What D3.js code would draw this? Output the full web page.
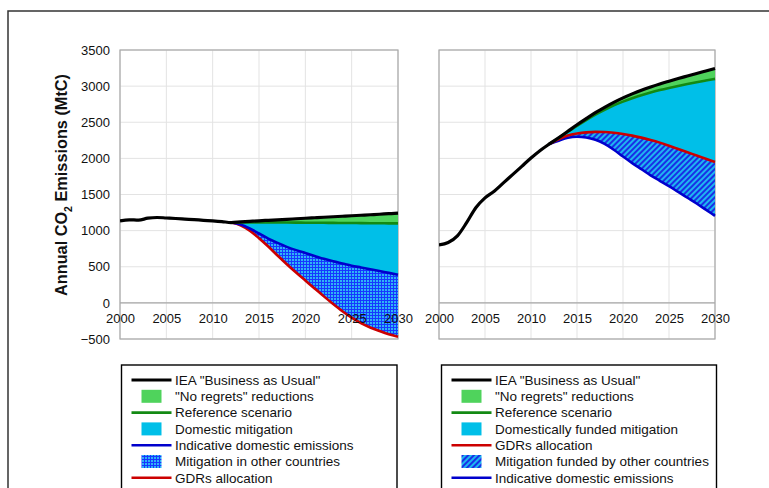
<!DOCTYPE html>
<html><head><meta charset="utf-8">
<script src="https://cdn.jsdelivr.net/npm/d3@7"></script>
<style>body{margin:0;background:#fff} text{font-family:"Liberation Sans",Arial,sans-serif}</style>
</head><body><svg id="c" width="769" height="488"></svg>
<script>
// ---------- DATA ----------
const years = [2000,2001,2002,2003,2004,2005,2006,2007,2008,2009,2010,2011,2012,2013,2014,2015,
  2016,2017,2018,2019,2020,2021,2022,2023,2024,2025,2026,2027,2028,2029,2030];
const scenYears = [2012,2013,2014,2015,2016,2017,2018,2019,2020,2021,2022,2023,2024,2025,2026,2027,2028,2029,2030];

// Left panel
const leftBAU = [1135,1150,1145,1172,1182,1175,1168,1160,1152,1143,1135,1125,1112,1120,1128,1136,
  1143,1150,1157,1164,1171,1178,1185,1192,1199,1206,1213,1220,1227,1234,1241];
const leftRef = [1112,1113,1114,1114,1114,1113,1112,1111,1110,1109,1108,1107,1106,1105,1104,1103,1102,1101,1100];
const leftDomestic = [1112,1085,1030,960,890,830,775,730,690,650,610,575,545,515,490,465,440,415,390];
const leftGDR = [1112,1075,1000,895,780,655,535,420,310,200,90,-15,-115,-205,-280,-340,-390,-435,-470];

// Right panel
const rightBAU = [803,835,927,1110,1317,1454,1546,1661,1775,1890,2005,2110,2200,2285,2375,2465,
  2550,2632,2707,2776,2838,2893,2943,2988,3030,3068,3105,3140,3175,3210,3245];
const rightRef = [2200,2282,2368,2450,2530,2605,2672,2733,2785,2832,2875,2912,2945,2975,3003,3030,3055,3078,3100];
const rightGDR = [2200,2265,2315,2343,2360,2367,2365,2355,2338,2315,2287,2255,2218,2175,2130,2085,2040,1995,1950];
const rightDomestic = [2198,2245,2285,2300,2290,2257,2200,2120,2025,1935,1850,1765,1690,1615,1535,1455,1375,1290,1205];

const yTicks = [-500,0,500,1000,1500,2000,2500,3000,3500];
const xTicks = [2000,2005,2010,2015,2020,2025,2030];

const leftLegendLabels = ['IEA "Business as Usual"','"No regrets" reductions','Reference scenario',
  'Domestic mitigation','Indicative domestic emissions','Mitigation in other countries','GDRs allocation'];
const rightLegendLabels = ['IEA "Business as Usual"','"No regrets" reductions','Reference scenario',
  'Domestically funded mitigation','GDRs allocation','Mitigation funded by other countries','Indicative domestic emissions'];

// ---------- STYLE ----------
const C = {bau:"#000000", green:"#4fd35c", ref:"#138a13", cyan:"#00bfe8", blue:"#0000cc", red:"#cc0000"};

const svg = d3.select("#c");
svg.append("rect").attr("width",769).attr("height",488).attr("fill","#fff");

const defs = svg.append("defs");
const gp = defs.append("pattern").attr("id","gridHatch").attr("patternUnits","userSpaceOnUse")
  .attr("width",3).attr("height",3);
gp.append("rect").attr("width",3).attr("height",3).attr("fill","#1638ff");
gp.append("rect").attr("x",1).attr("y",1).attr("width",2).attr("height",2).attr("fill","#2fb4f5");
const sp = defs.append("pattern").attr("id","stripeHatch").attr("patternUnits","userSpaceOnUse")
  .attr("width",4).attr("height",4).attr("patternTransform","rotate(45)");
sp.append("rect").attr("width",4).attr("height",4).attr("fill","#1eb6f0");
sp.append("rect").attr("width",2).attr("height",4).attr("fill","#1a2fe6");

// outer frame
svg.append("rect").attr("x",8).attr("y",11).attr("width",800).attr("height",500)
  .attr("fill","none").attr("stroke","#333").attr("stroke-width",1.5);

const y = d3.scaleLinear().domain([-500,3500]).range([339,50]);

function panel(opts){
  const x = d3.scaleLinear().domain([2000,2030]).range(opts.xr);
  const g = svg.append("g");
  const clipId = "clip"+opts.id;
  defs.append("clipPath").attr("id",clipId).append("rect")
    .attr("x",opts.xr[0]).attr("y",48).attr("width",opts.xr[1]-opts.xr[0]+1).attr("height",339-48+2);
  // grid
  g.selectAll(".vg").data(xTicks).join("line")
    .attr("x1",d=>x(d)).attr("x2",d=>x(d)).attr("y1",y(3500)).attr("y2",y(-500))
    .attr("stroke","#e3e3e3").attr("stroke-width",1);
  g.selectAll(".hg").data(yTicks).join("line")
    .attr("x1",opts.xr[0]).attr("x2",opts.xr[1]).attr("y1",d=>y(d)).attr("y2",d=>y(d))
    .attr("stroke","#e3e3e3").attr("stroke-width",1);
  // frame
  g.append("rect").attr("x",opts.xr[0]).attr("y",y(3500)).attr("width",opts.xr[1]-opts.xr[0])
    .attr("height",y(-500)-y(3500)).attr("fill","none").attr("stroke","#a8a8a8").attr("stroke-width",1.2);
  // zero axis
  g.append("line").attr("x1",opts.xr[0]).attr("x2",opts.xr[1]).attr("y1",y(0)).attr("y2",y(0))
    .attr("stroke","#a8a8a8").attr("stroke-width",1.2);

  const rows = scenYears.map((yr,i)=>({year:yr, bau:opts.bau[years.indexOf(yr)], ref:opts.ref[i], dom:opts.dom[i], gdr:opts.gdr[i]}));
  const hist = years.map((yr,i)=>({year:yr, v:opts.bau[i]}));
  const cur = d3.curveMonotoneX;
  const area = (a,b)=>d3.area().x(d=>x(d.year)).y0(d=>y(d[b])).y1(d=>y(d[a])).curve(cur);
  const line = k=>d3.line().x(d=>x(d.year)).y(d=>y(d[k])).curve(cur);
  const pg = g.append("g").attr("clip-path",`url(#${clipId})`);
  pg.append("path").datum(rows).attr("d",area("bau","ref")).attr("fill",C.green);
  for (const a of opts.areas){
    pg.append("path").datum(rows).attr("d",area(a[0],a[1])).attr("fill",a[2]);
  }
  for (const l of opts.lines){
    pg.append("path").datum(rows).attr("d",line(l[0])).attr("fill","none").attr("stroke",l[1]).attr("stroke-width",2.6);
  }
  pg.append("path").datum(rows).attr("d",line("ref")).attr("fill","none").attr("stroke",C.ref).attr("stroke-width",2.6);
  pg.append("path").datum(hist).attr("d",d3.line().x(d=>x(d.year)).y(d=>y(d.v)).curve(cur))
    .attr("fill","none").attr("stroke",C.bau).attr("stroke-width",3.2).attr("stroke-linejoin","round");

  // x axis labels
  const xa = g.append("g").attr("transform",`translate(0,${y(0)})`)
    .call(d3.axisBottom(x).tickValues(xTicks).tickFormat(d3.format("d")).tickSize(0).tickPadding(11));
  xa.select(".domain").remove();
  xa.selectAll("text").attr("font-size",13).attr("fill","#111").attr("font-family",'"Liberation Sans",Arial,sans-serif');
  if (opts.yaxis){
    const ya = g.append("g").attr("transform",`translate(${opts.xr[0]},0)`)
      .call(d3.axisLeft(y).tickValues(yTicks).tickFormat(d3.format("d")).tickSize(0).tickPadding(10));
    ya.select(".domain").remove();
    ya.selectAll("text").attr("font-size",13).attr("fill","#111").attr("font-family",'"Liberation Sans",Arial,sans-serif');
  }
}

panel({id:"L", xr:[120,398], bau:leftBAU, ref:leftRef, dom:leftDomestic, gdr:leftGDR, yaxis:true,
  areas:[["ref","dom",C.cyan],["dom","gdr","url(#gridHatch)"]],
  lines:[["gdr",C.red],["dom",C.blue]]});
panel({id:"R", xr:[439,715], bau:rightBAU, ref:rightRef, dom:rightDomestic, gdr:rightGDR, yaxis:false,
  areas:[["ref","gdr",C.cyan],["gdr","dom","url(#stripeHatch)"]],
  lines:[["dom",C.blue],["gdr",C.red]]});

// y axis title
const yt = svg.append("text").attr("transform","translate(67,185) rotate(-90)")
  .attr("text-anchor","middle").attr("font-size",16.3).attr("font-weight","bold").attr("fill","#111");
yt.append("tspan").text("Annual CO");
yt.append("tspan").text("2").attr("font-size",10.5).attr("dy",5);
yt.append("tspan").text(" Emissions (MtC)").attr("dy",-5);

// legends
function legend(x0, x1, labels, kinds){
  svg.append("rect").attr("x",x0).attr("y",365).attr("width",x1-x0).attr("height",140)
    .attr("fill","#fff").attr("stroke","#000").attr("stroke-width",1.4);
  const lg = svg.append("g");
  labels.forEach((lab,i)=>{
    const cy = 380 + i*16.3;
    const k = kinds[i];
    if (k.line){
      lg.append("line").attr("x1",x0+10).attr("x2",x0+50).attr("y1",cy).attr("y2",cy)
        .attr("stroke",k.line).attr("stroke-width",k.line===C.bau?3:2.6);
    } else {
      lg.append("rect").attr("x",x0+20).attr("y",cy-6.5).attr("width",20).attr("height",13).attr("fill",k.fill);
    }
    lg.append("text").attr("x",x0+53.5).attr("y",cy).attr("dy","0.36em").attr("font-size",13.5).attr("fill","#111").text(lab);
  });
}
legend(121.5, 397, leftLegendLabels, [{line:C.bau},{fill:C.green},{line:C.ref},{fill:C.cyan},{line:C.blue},{fill:"url(#gridHatch)"},{line:C.red}]);
legend(441.5, 716.5, rightLegendLabels, [{line:C.bau},{fill:C.green},{line:C.ref},{fill:C.cyan},{line:C.red},{fill:"url(#stripeHatch)"},{line:C.blue}]);
</script></body></html>
